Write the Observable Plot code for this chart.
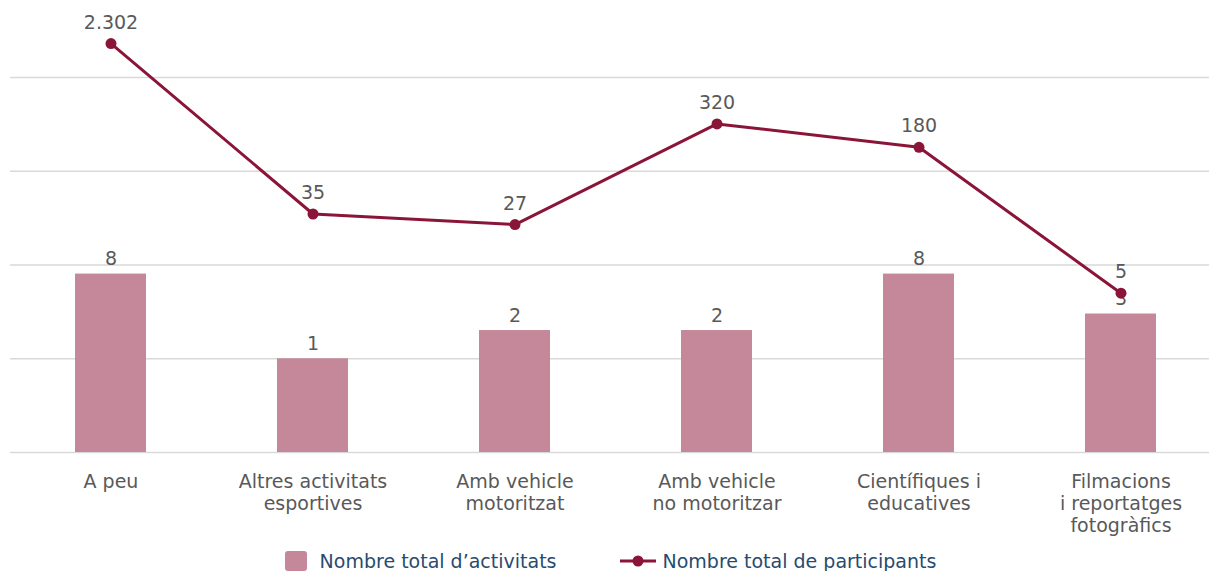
<!DOCTYPE html>
<html><head><meta charset="utf-8">
<script src="https://cdn.jsdelivr.net/npm/d3@7"></script>
<script src="https://cdn.jsdelivr.net/npm/@observablehq/plot@0.6"></script>
<style>
body{margin:0;background:#fff;font-family:"DejaVu Sans",Verdana,sans-serif;}
#chart svg{display:block;}
#legend{display:flex;justify-content:center;align-items:center;height:31px;gap:63px;font-size:19px;color:#284b6e;padding-left:12px;padding-top:5px;}
.item{display:flex;align-items:center;}
.sq{display:inline-block;width:22px;height:20px;border-radius:3px;background:#c4889a;margin-right:13px;}
.ln{margin-right:7px;}
</style></head><body>
<div id="chart"></div>
<div id="legend"></div>
<script>
const categories = ["A peu","Altres activitats\nesportives","Amb vehicle\nmotoritzat","Amb vehicle\nno motoritzar","Científiques i\neducatives","Filmacions\ni reportatges\nfotogràfics"];
const activitats = [8, 1, 2, 2, 8, 3];
const participants = [2302, 35, 27, 320, 180, 5];
const gridValues = [0.1, 1, 10, 100, 1000];
const seriesNames = ["Nombre total d’activitats", "Nombre total de participants"];
const barColor = "#c4889a";
const lineColor = "#8a1538";

const fmt = d3.formatLocale({thousands: ".", decimal: ",", grouping: [3], currency: ["", "€"]}).format(",d");
const data = categories.map((c, i) => ({cat: c, act: activitats[i], part: participants[i]}));

const chart = Plot.plot({
  width: 1209, height: 540,
  marginLeft: 10, marginRight: 0, marginTop: 0, marginBottom: 88,
  style: {fontFamily: "DejaVu Sans, Verdana, sans-serif", fontSize: "19px", color: "#595959", background: "#fff"},
  x: {domain: categories, range: [8, 1222], paddingInner: 0.65, paddingOuter: 0.325, label: null},
  y: {type: "log", domain: [0.1, 1000], range: [452, 77], axis: null},
  marks: [
    Plot.ruleY(gridValues, {stroke: "#d9d9d9", strokeWidth: 1.3}),
    Plot.barY(data, {x: "cat", y1: 0.1, y2: "act", fill: barColor}),
    Plot.text(data, {x: "cat", y: "act", text: d => String(d.act), lineAnchor: "bottom", dy: -9, fill: "#595959", fontSize: 19}),
    Plot.line(data, {x: "cat", y: "part", stroke: lineColor, strokeWidth: 3}),
    Plot.dot(data, {x: "cat", y: "part", r: 5.5, fill: lineColor}),
    Plot.text(data, {x: "cat", y: "part", text: d => fmt(d.part), lineAnchor: "bottom", dy: -15, fill: "#595959", fontSize: 19}),
    Plot.axisX({tickSize: 0, tickPadding: 20, lineHeight: 1.15, fontSize: 19, fill: "#595959", label: null})
  ]
});
document.getElementById("chart").appendChild(chart);

const legend = document.getElementById("legend");
legend.innerHTML = `
  <div class="item"><span class="sq"></span><span>${seriesNames[0]}</span></div>
  <div class="item"><svg class="ln" width="36" height="12"><line x1="0" y1="6" x2="36" y2="6" stroke="${lineColor}" stroke-width="3"/><circle cx="18" cy="6" r="5.5" fill="${lineColor}"/></svg><span>${seriesNames[1]}</span></div>`;
</script>
</body></html>
